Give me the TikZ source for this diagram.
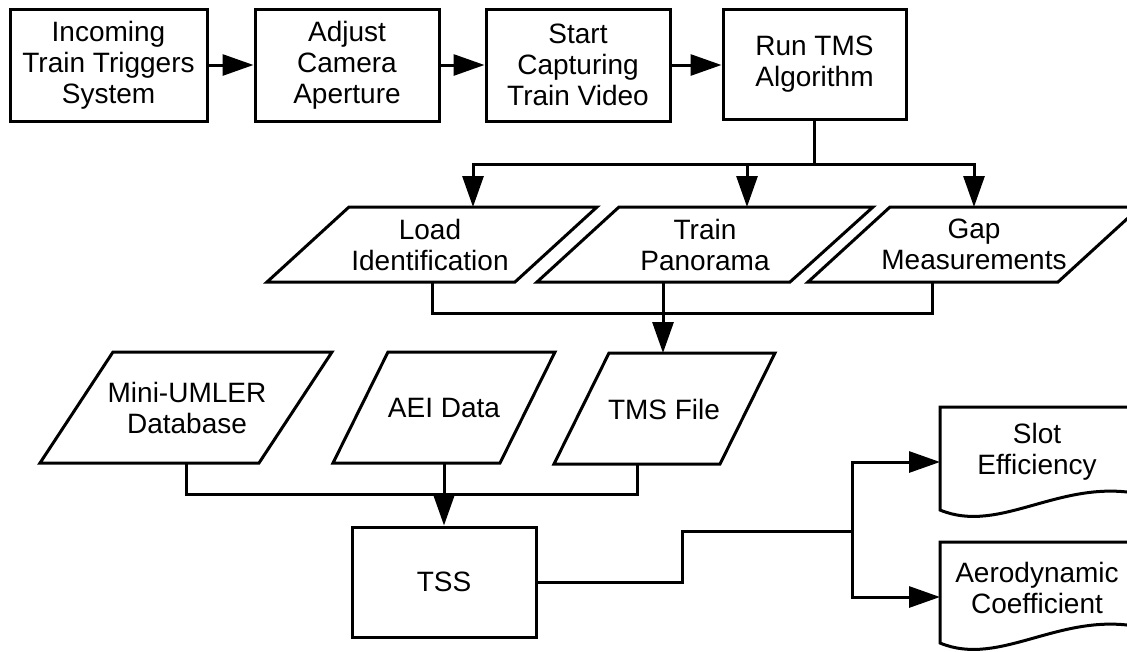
\documentclass[tikz,border=0pt]{standalone}
\usepackage{fontspec}
\setmainfont{Liberation Sans}
\usetikzlibrary{arrows.meta}
\begin{document}
\begin{tikzpicture}[x=1pt,y=-1pt,
  every node/.style={font=\fontsize{28}{31}\selectfont, align=center, inner sep=0pt},
  box/.style={draw, line width=3pt},
  para/.style={draw, line width=3pt, line join=miter},
  docshape/.style={draw, line width=3pt, line join=miter},
  wire/.style={line width=3pt},
  arr/.style={line width=3pt, -{Triangle[length=31pt,width=21pt]}}
]
\useasboundingbox (0,0) rectangle (1127,651);
\clip (0,0) rectangle (1127,651);

% top row of process boxes
\node[box, minimum width=197pt, minimum height=112pt] (b1) at (108.5,65) {Incoming\\Train Triggers\\System};
\node[box, minimum width=184pt, minimum height=112pt] (b2) at (347,65) {Adjust\\Camera\\Aperture};
\node[box, minimum width=184pt, minimum height=112pt] (b3) at (578,65) {Start\\Capturing\\Train Video};
\node[box, minimum width=183pt, minimum height=110pt] (b4) at (814.5,64) {Run TMS\\Algorithm};

\draw[arr] (b1.east |- 0,65) -- (b2.west |- 0,65);
\draw[arr] (b2.east |- 0,65) -- (b3.west |- 0,65);
\draw[arr] (b3.east |- 0,65) -- (b4.west |- 0,65);

% middle row of parallelograms
\draw[para] (349,207) -- (597,207) -- (515,282) -- (267,282) -- cycle;
\node (load) at (430,244.5) {Load\\Identification};
\draw[para] (619,207) -- (873,207) -- (790,282) -- (537,282) -- cycle;
\node (pano) at (705,244.5) {Train\\Panorama};
\draw[para] (890,207) -- (1140,207) -- (1058,282) -- (808,282) -- cycle;
\node (gap) at (974,244.5) {Gap\\Measurements};

\coordinate (load-in) at (473,207);
\coordinate (pano-in) at (747,207);
\coordinate (gap-in) at (974,207);
\coordinate (load-out) at (432,282);
\coordinate (pano-out) at (663,282);
\coordinate (gap-out) at (932,282);

\coordinate (split1) at (814.5,164);
\draw[wire] (b4.south) -- (split1);
\draw[arr] (split1) -| (load-in);
\draw[arr] (split1) -| (pano-in);
\draw[arr] (split1) -| (gap-in);

% bottom row of parallelograms
\draw[para] (113,352) -- (332,352) -- (259,463) -- (40,463) -- cycle;
\node (mini) at (187,407.5) {Mini-UMLER\\Database};
\draw[para] (388,352) -- (555,352) -- (500,463) -- (333,463) -- cycle;
\node (aei) at (444,407.5) {AEI Data};
\draw[para] (609,353) -- (775,353) -- (720,464) -- (554,464) -- cycle;
\node (tmsf) at (664,409) {TMS File};

\coordinate (tmsf-in) at (663,353);
\coordinate (mini-out) at (186,463);
\coordinate (aei-out) at (444,463);
\coordinate (tmsf-out) at (637,464);

\coordinate (merge1) at (663,313);
\draw[wire] (load-out) |- (merge1);
\draw[wire] (gap-out) |- (merge1);
\draw[arr] (pano-out) -- (tmsf-in);

% TSS
\node[box, minimum width=184pt, minimum height=110pt] (tss) at (444,582) {TSS};
\coordinate (merge2) at (444,494);
\draw[wire] (mini-out) |- (merge2);
\draw[wire] (tmsf-out) |- (merge2);
\draw[arr] (aei-out) -- (tss.north);

% documents
\draw[docshape] (940,510) -- (940,407) -- (1140,407) -- (1140,494)
  .. controls (1060,478) and (1000,535) .. (940,510) -- cycle;
\node (slot) at (1037,452) {Slot\\Efficiency};
\draw[docshape] (940,643) -- (940,542) -- (1140,542) -- (1140,627)
  .. controls (1060,611) and (1000,668) .. (940,643) -- cycle;
\node (aero) at (1037,587.5) {Aerodynamic\\Coefficient};

\coordinate (slot-in) at (940,462);
\coordinate (aero-in) at (940,597);
\coordinate (jog) at (682,531);
\coordinate (split2) at (852,531);
\draw[wire] (tss.east) -| (jog) -- (split2);
\draw[arr] (split2) |- (slot-in);
\draw[arr] (split2) |- (aero-in);
\end{tikzpicture}
\end{document}
